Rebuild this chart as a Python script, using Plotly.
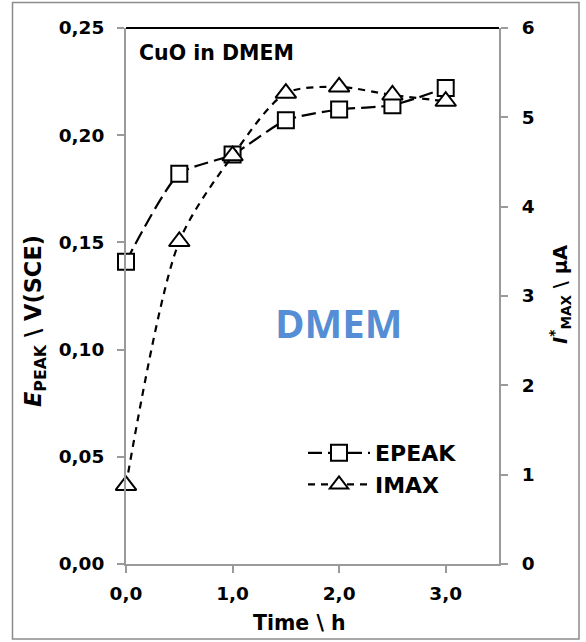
import plotly.graph_objects as go

# ---- data ----
time_h = [0.0, 0.5, 1.0, 1.5, 2.0, 2.5, 3.0]
epeak_v = [0.141, 0.182, 0.191, 0.207, 0.212, 0.214, 0.222]
imax_ua = [0.88, 3.61, 4.57, 5.27, 5.34, 5.25, 5.18]

x_ticks = [0, 1, 2, 3]

W, H = 586, 642
L, R, T, B = 126, 499, 28, 564  # plot area in pixels


def px(x):
    return (x - L) / (R - L)


def py(y):
    return (B - y) / (B - T)


FONT = "DejaVu Sans"
GRAY = "#9a9a9a"

fig = go.Figure()
fig.add_trace(go.Scatter(
    x=time_h, y=epeak_v, name="EPEAK", mode="lines+markers",
    line=dict(color="black", width=2.2, dash="14px,6px", shape="spline", smoothing=0.6),
    marker=dict(symbol="square", size=16, color="white", line=dict(color="black", width=2)),
    cliponaxis=False, yaxis="y",
))
fig.add_trace(go.Scatter(
    x=time_h, y=imax_ua, name="IMAX", mode="lines+markers",
    line=dict(color="black", width=2.2, dash="7px,6px", shape="spline", smoothing=0.8),
    marker=dict(symbol="triangle-up", size=18, color="white", line=dict(color="black", width=2)),
    cliponaxis=False, yaxis="y2",
))

tickfont = dict(family=FONT, size=18.5, color="black", weight="bold")

fig.update_layout(
    width=W, height=H,
    margin=dict(l=L, r=W - R, t=T, b=H - B),
    paper_bgcolor="white", plot_bgcolor="white",
    separators=",.",
    showlegend=True,
    legend=dict(
        x=px(303), y=py(432), xanchor="left", yanchor="top",
        font=dict(family=FONT, size=22, color="black", weight="bold"),
        bgcolor="rgba(0,0,0,0)", borderwidth=0, itemwidth=62,
        tracegroupgap=0,
    ),
    xaxis=dict(
        range=[0, 3.5], tickvals=x_ticks, tickformat=".1f",
        showline=True, linecolor=GRAY, linewidth=2,
        ticks="outside", ticklen=7, tickwidth=2, tickcolor=GRAY,
        ticklabelstandoff=5,
        showgrid=False, zeroline=False, tickfont=tickfont,
    ),
    yaxis=dict(
        range=[0, 0.25], dtick=0.05, tickformat=".2f",
        showline=True, linecolor=GRAY, linewidth=2,
        ticks="outside", ticklen=7, tickwidth=2, tickcolor=GRAY,
        ticklabelstandoff=9,
        showgrid=False, zeroline=False, tickfont=tickfont,
    ),
    yaxis2=dict(
        range=[0, 6], dtick=1, overlaying="y", side="right",
        showline=True, linecolor=GRAY, linewidth=2,
        ticks="outside", ticklen=7, tickwidth=2, tickcolor=GRAY,
        ticklabelstandoff=10,
        showgrid=False, zeroline=False, tickfont=tickfont,
    ),
)

# top black border of the plot area
fig.add_shape(type="line", xref="paper", yref="paper", x0=0, x1=1, y0=1, y1=1,
              line=dict(color="black", width=2))
# outer frame
fig.add_shape(type="rect", xref="paper", yref="paper",
              x0=px(12.5), x1=px(579), y0=py(2.5), y1=py(639),
              line=dict(color="#8c8c8c", width=1.5))

fig.add_annotation(text="CuO in DMEM", xref="paper", yref="paper",
                   x=px(137), y=py(53), xanchor="left", yanchor="middle", showarrow=False,
                   font=dict(family=FONT, size=20.5, color="black", weight="bold"))
fig.add_annotation(text="DMEM", xref="paper", yref="paper",
                   x=px(338), y=py(322), xanchor="center", yanchor="middle", showarrow=False,
                   font=dict(family="Open Sans", size=40, color="#558ED5", weight="bold"))
fig.add_annotation(text="Time \\ h", xref="paper", yref="paper",
                   x=px(299), y=py(623), xanchor="center", yanchor="middle", showarrow=False,
                   font=dict(family=FONT, size=20.5, color="black", weight="bold"))
fig.add_annotation(text="<i>E</i><sub>PEAK</sub> \\ V(SCE)", xref="paper", yref="paper",
                   x=px(35), y=py(321), xanchor="center", yanchor="middle", showarrow=False,
                   textangle=-90,
                   font=dict(family=FONT, size=22.5, color="black", weight="bold"))
fig.add_annotation(text="<i>I</i><sup>*</sup><sub>MAX</sub> \\ µA", xref="paper", yref="paper",
                   x=px(560), y=py(295), xanchor="center", yanchor="middle", showarrow=False,
                   textangle=-90,
                   font=dict(family=FONT, size=19.5, color="black", weight="bold"))

fig.write_html("out.html")
